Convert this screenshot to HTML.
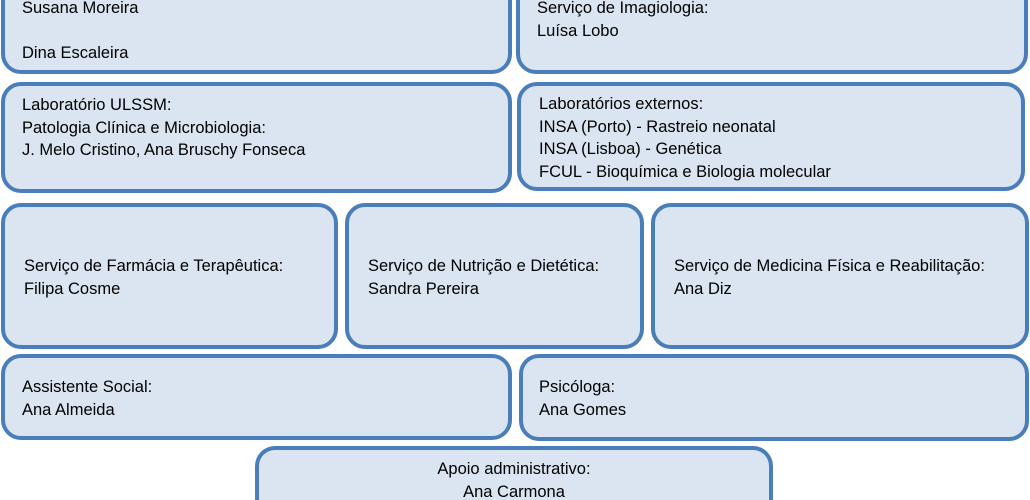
<!DOCTYPE html>
<html style="height:500px;overflow:hidden"><head><meta charset="utf-8"><style>
body{margin:0;width:1030px;height:500px;overflow:hidden;background:#fff;position:relative;font-family:"Liberation Sans",sans-serif;font-size:16.5px;color:#000}
.b{position:absolute;box-sizing:border-box;border:4px solid #4a7ebb;background:#dbe5f1;border-radius:20px}
.t{position:absolute;line-height:22.5px;white-space:nowrap}
</style></head><body>
<div class="b" style="left:1px;top:-30px;width:511px;height:104px"></div>
<div class="b" style="left:516px;top:-30px;width:512px;height:104px"></div>
<div class="b" style="left:1px;top:82px;width:511px;height:111px"></div>
<div class="b" style="left:517px;top:82px;width:508px;height:109px"></div>
<div class="b" style="left:1px;top:203px;width:337px;height:146px"></div>
<div class="b" style="left:345px;top:203px;width:299px;height:146px"></div>
<div class="b" style="left:651px;top:203px;width:378px;height:146px"></div>
<div class="b" style="left:1px;top:354px;width:511px;height:86px"></div>
<div class="b" style="left:519px;top:354px;width:510px;height:87px"></div>
<div class="b" style="left:255px;top:446px;width:518px;height:54px;border-bottom:none;border-radius:20px 20px 0 0"></div>

<div class="t" style="left:22px;top:-3px">Susana Moreira<br><br>Dina Escaleira</div>
<div class="t" style="left:537px;top:-3px">Serviço de Imagiologia:<br>Luísa Lobo</div>
<div class="t" style="left:22px;top:94px">Laboratório ULSSM:<br>Patologia Clínica e Microbiologia:<br>J. Melo Cristino, Ana Bruschy Fonseca</div>
<div class="t" style="left:539px;top:93px">Laboratórios externos:<br>INSA (Porto) - Rastreio neonatal<br>INSA (Lisboa) - Genética<br>FCUL - Bioquímica e Biologia molecular</div>
<div class="t" style="left:24px;top:255px">Serviço de Farmácia e Terapêutica:<br>Filipa Cosme</div>
<div class="t" style="left:368px;top:255px">Serviço de Nutrição e Dietética:<br>Sandra Pereira</div>
<div class="t" style="left:674px;top:255px">Serviço de Medicina Física e Reabilitação:<br>Ana Diz</div>
<div class="t" style="left:22px;top:376px">Assistente Social:<br>Ana Almeida</div>
<div class="t" style="left:539px;top:376px">Psicóloga:<br>Ana Gomes</div>
<div class="t" style="left:255px;width:518px;text-align:center;top:458px">Apoio administrativo:<br>Ana Carmona</div>
</body></html>
